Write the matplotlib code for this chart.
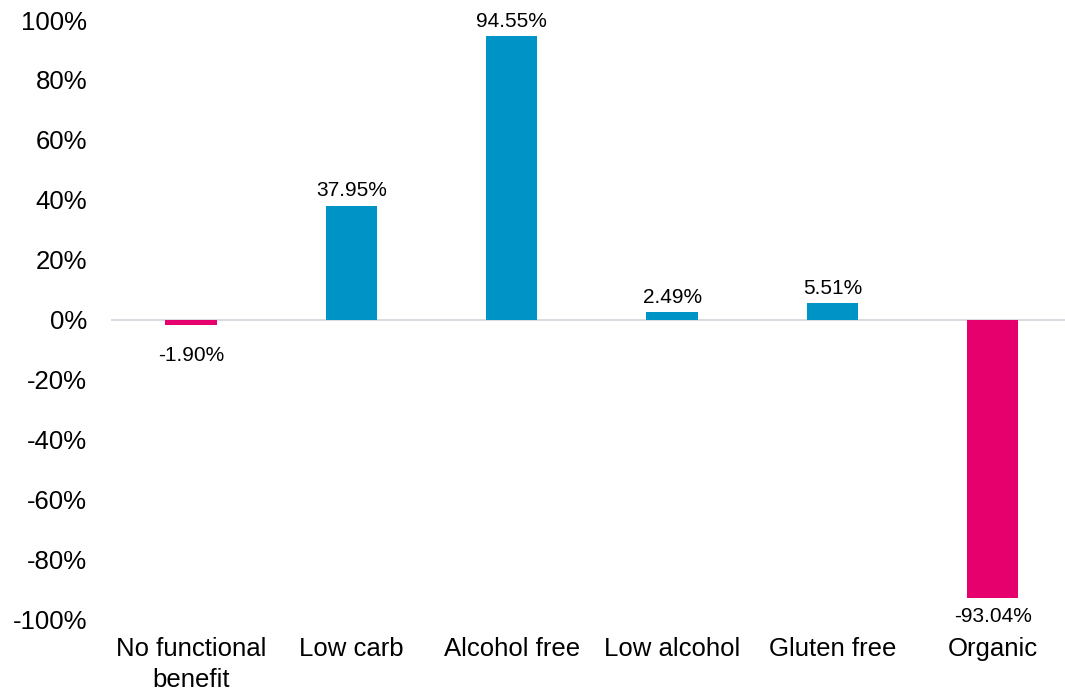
import numpy as np
import matplotlib.pyplot as plt

# Data
categories = ["No functional\nbenefit", "Low carb", "Alcohol free", "Low alcohol", "Gluten free", "Organic"]
values = [-1.90, 37.95, 94.55, 2.49, 5.51, -93.04]
yticks = list(range(-100, 101, 20))

blue = "#0094C6"
pink = "#E5006D"

plt.rcParams['font.family'] = ['Liberation Sans', 'DejaVu Sans']

fig = plt.figure(figsize=(10.65, 6.91), dpi=100)
ax = fig.add_axes([0.104, 0.104, 0.896, 0.867])

x = np.arange(len(categories))
colors = [blue if v >= 0 else pink for v in values]
ax.bar(x, values, width=0.32, color=colors, zorder=2)

# zero line
ax.axhline(0, color="#D9DDE2", linewidth=1.5, zorder=1)

# data labels (negative ones kept clear of the zero line)
for xi, v in zip(x, values):
    if v >= 0:
        ax.annotate(f"{v:.2f}%", (xi, v), xytext=(0, 4), textcoords="offset points",
                    ha="center", va="bottom", fontsize=15)
    else:
        ax.annotate(f"{v:.2f}%", (xi, min(v, -6)), xytext=(0, -6), textcoords="offset points",
                    ha="center", va="top", fontsize=15)

ax.set_ylim(-100, 100)
ax.set_xlim(-0.5, 5.45)
ax.set_yticks(yticks)
ax.set_yticklabels([f"{t}%" for t in yticks], fontsize=18.5)
ax.set_xticks(x)
ax.set_xticklabels(categories, fontsize=18.5, linespacing=1.35)
ax.tick_params(axis="both", length=0)
ax.tick_params(axis="x", pad=13)
ax.tick_params(axis="y", pad=17)
for s in ax.spines.values():
    s.set_visible(False)

fig.savefig("out.png", dpi=100)
